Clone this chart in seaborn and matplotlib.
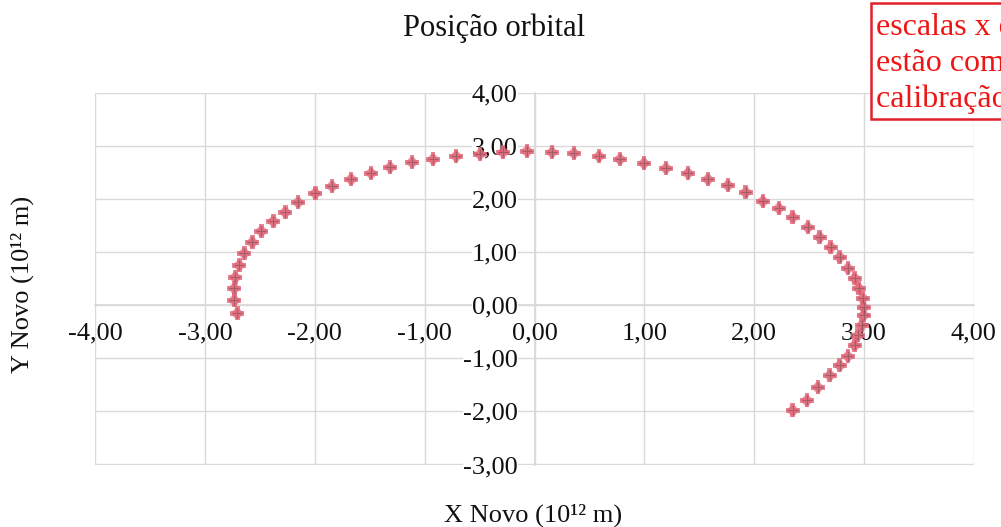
import matplotlib
matplotlib.use("Agg")
import matplotlib.pyplot as plt
import seaborn as sns
import pandas as pd
from matplotlib.patches import Rectangle

x_novo = [-2.707, -2.734, -2.734, -2.725, -2.689, -2.643, -2.570, -2.488, -2.379, -2.270,
          -2.152, -1.997, -1.843, -1.670, -1.488, -1.315, -1.115, -0.924, -0.714, -0.496,
          -0.287, -0.068, 0.159, 0.359, 0.587, 0.778, 0.996, 1.197, 1.397, 1.579,
          1.761, 1.924, 2.079, 2.225, 2.352, 2.489, 2.598, 2.698, 2.780, 2.853,
          2.916, 2.953, 2.989, 2.998, 2.998, 2.980, 2.944, 2.916, 2.853, 2.780,
          2.689, 2.580, 2.480, 2.352]
y_novo = [-0.151, 0.094, 0.321, 0.528, 0.755, 0.981, 1.189, 1.396, 1.585, 1.755,
          1.943, 2.113, 2.245, 2.377, 2.491, 2.604, 2.698, 2.755, 2.811, 2.849,
          2.887, 2.906, 2.887, 2.868, 2.811, 2.755, 2.679, 2.585, 2.491, 2.377,
          2.264, 2.132, 1.962, 1.830, 1.660, 1.472, 1.283, 1.094, 0.906, 0.698,
          0.509, 0.321, 0.132, -0.038, -0.189, -0.377, -0.566, -0.755, -0.962, -1.132,
          -1.321, -1.547, -1.792, -1.981]
x_ticks = [-4, -3, -2, -1, 0, 1, 2, 3, 4]
y_ticks = [-3, -2, -1, 0, 1, 2, 3, 4]
title = "Posição orbital"
x_label = "X Novo (10¹² m)"
y_label = "Y Novo (10¹² m)"
note_lines = ["escalas x e y", "estão com a", "calibração diferente"]

df = pd.DataFrame({"x": x_novo, "y": y_novo})

sns.set_theme(style="white")
plt.rcParams["font.family"] = ["Liberation Serif", "DejaVu Serif"]

fig = plt.figure(figsize=(10.01, 5.27), dpi=100)
ax = fig.add_axes([95 / 1001, 1 - 465 / 527, (974 - 95) / 1001, (465 - 93) / 527])

sns.scatterplot(data=df, x="x", y="y", ax=ax, marker="D", s=50, color="#e57a88",
                alpha=0.75, edgecolor="none", zorder=3, legend=False)
sns.scatterplot(data=df, x="x", y="y", ax=ax, marker="P", s=100, color="#e06274",
                alpha=0.75, edgecolor="none", zorder=3, legend=False)
sns.scatterplot(data=df, x="x", y="y", ax=ax, marker="+", s=60, color="#3a3a3a",
                alpha=0.35, linewidth=0.8, zorder=4, legend=False)

ax.set_xlim(-4.002, 4.002)
ax.set_ylim(-3.01, 4.005)
ax.set_xticks(x_ticks)
ax.set_yticks(y_ticks)
fmt = lambda v: f"{v:.2f}".replace(".", ",")
ax.set_xticklabels([fmt(v) for v in x_ticks])
ax.set_yticklabels([fmt(v) for v in y_ticks])

ax.grid(True, color="#d9d9d9", linewidth=1.0)
ax.set_axisbelow(True)
for s in ["top", "right"]:
    ax.spines[s].set_visible(False)
ax.spines["left"].set_position(("data", 0))
ax.spines["bottom"].set_position(("data", 0))
ax.spines["left"].set_color("#d9d9d9")
ax.spines["bottom"].set_color("#d9d9d9")
ax.spines["left"].set_zorder(0.5)
ax.spines["bottom"].set_zorder(0.5)
ax.tick_params(axis="both", length=0, labelsize=19, colors="#111111")
ax.tick_params(axis="y", pad=12)
ax.tick_params(axis="x", pad=12)
for lbl in ax.get_yticklabels():
    lbl.set_bbox(dict(facecolor="white", edgecolor="none", pad=0))

ax.set_xlabel("")
ax.set_ylabel("")
fig.text(533 / 1001, 1 - 515 / 527, x_label, ha="center", va="center", fontsize=19, color="#111111")
fig.text(22 / 1001, 1 - 284 / 527, y_label, ha="center", va="center", rotation=90, fontsize=19, color="#111111")
fig.text(494 / 1001, 1 - 28 / 527, title, ha="center", va="center", fontsize=22, color="#111111")

rect = Rectangle((871 / 1001, 1 - 119 / 527), 200 / 1001, 116 / 527, transform=fig.transFigure,
                 facecolor="white", edgecolor="#e0202a", linewidth=1.8, zorder=10)
fig.patches.append(rect)
for i, line in enumerate(note_lines):
    fig.text(876 / 1001, 1 - (35 + i * 36) / 527, line, ha="left", va="baseline",
             fontsize=23, color="#f01515", zorder=11)

fig.savefig("out.png", dpi=100)
